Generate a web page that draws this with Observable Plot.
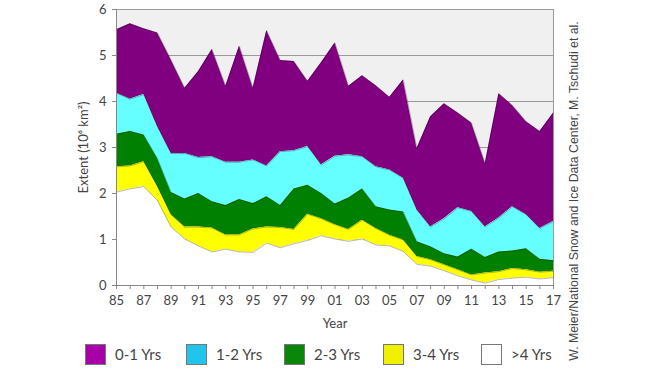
<!DOCTYPE html>
<html><head><meta charset="utf-8">
<script src="https://cdn.jsdelivr.net/npm/d3@7"></script>
<script src="https://cdn.jsdelivr.net/npm/@observablehq/plot@0.6"></script>
<style>
body{margin:0;background:#fff;}
#wrap{position:relative;width:652px;height:382px;font-family:Lato,"Open Sans",sans-serif;color:#444;overflow:hidden;}
#legend{position:absolute;left:0;top:342px;width:652px;height:24px;}
.item{position:absolute;top:0;height:24px;display:flex;align-items:center;font-size:15px;color:#444;}
.sw{width:21px;height:21px;border:1px solid #777;box-sizing:border-box;margin-right:9px;}
#credit{position:absolute;left:574px;top:191px;transform:translate(-50%,-50%) rotate(-90deg);white-space:nowrap;font-family:"Liberation Sans",Arial,sans-serif;font-size:12.3px;color:#444;}
</style></head><body><div id="wrap"></div>
<script>
const years = [1985,1986,1987,1988,1989,1990,1991,1992,1993,1994,1995,1996,1997,1998,1999,2000,2001,2002,2003,2004,2005,2006,2007,2008,2009,2010,2011,2012,2013,2014,2015,2016,2017];
const ageClasses = ["0-1 Yrs","1-2 Yrs","2-3 Yrs","3-4 Yrs",">4 Yrs"];
const fillColors = ["#800080","#66ffff","#008000","#ffff00","#ffffff"];
const legendColors = ["#a800a8","#22c4ec","#0a870a","#f0f000","#ffffff"];
// extent (10^6 km^2) of each age class, per year
const age01 = [1.38,1.64,1.43,2.04,2.03,1.42,1.87,2.33,1.65,2.52,1.56,2.94,1.98,1.94,1.42,2.22,2.46,1.49,1.76,1.76,1.58,2.14,1.34,2.40,2.50,2.06,1.92,1.38,2.70,2.20,2.02,2.11,2.36];
const age12 = [0.89,0.70,0.88,0.69,0.85,0.99,0.78,0.98,0.94,0.81,0.95,0.67,1.17,0.83,0.84,0.62,1.04,0.94,0.70,0.87,0.87,0.73,0.69,0.43,0.76,1.07,0.82,0.66,0.74,0.96,0.74,0.67,0.85];
const age23 = [0.71,0.75,0.58,0.61,0.48,0.61,0.73,0.57,0.64,0.77,0.55,0.66,0.48,0.88,0.63,0.55,0.45,0.68,0.68,0.47,0.55,0.61,0.32,0.28,0.24,0.28,0.56,0.34,0.43,0.38,0.46,0.28,0.23];
const age34 = [0.55,0.50,0.54,0.30,0.27,0.26,0.41,0.52,0.31,0.37,0.51,0.35,0.44,0.31,0.57,0.37,0.31,0.26,0.41,0.36,0.23,0.25,0.17,0.14,0.13,0.13,0.11,0.22,0.17,0.21,0.16,0.15,0.14];
const age4p = [2.03,2.10,2.15,1.85,1.27,1.01,0.86,0.73,0.79,0.73,0.72,0.92,0.82,0.91,0.98,1.08,1.01,0.96,1.01,0.88,0.86,0.74,0.46,0.42,0.32,0.21,0.12,0.05,0.13,0.16,0.18,0.14,0.17];
const yTicks = [0,1,2,3,4,5,6];
const credit = "W. Meier/National Snow and Ice Data Center, M. Tschudi et al.";

const series = [age01, age12, age23, age34, age4p];
const data = [];
ageClasses.forEach((a, i) => years.forEach((yr, j) => data.push({year: yr, age: a, value: series[i][j]})));
const stackOrder = ageClasses.slice().reverse();
const xFmt = d => d % 2 ? String(d).slice(2) : "";

const chart = Plot.plot({
  width: 652, height: 335,
  marginLeft: 116, marginRight: 99, marginTop: 9, marginBottom: 50,
  style: {fontFamily: "Lato, 'Open Sans', sans-serif", fontSize: "13px", color: "#444", background: "transparent"},
  x: {domain: [1985, 2017]},
  y: {domain: [0, 6]},
  color: {domain: ageClasses, range: fillColors},
  marks: [
    Plot.frame({fill: "#f0f0f0", stroke: null}),
    Plot.gridY(yTicks.filter(d => d > 0), {stroke: "#9a9a9a", strokeOpacity: 1, strokeWidth: 1}),
    Plot.ruleX([2017], {stroke: "#9a9a9a"}),
    Plot.areaY(data, {x: "year", y: "value", fill: "age", z: "age", order: stackOrder}),
    Plot.lineY(data, Plot.stackY2({x: "year", y: "value", z: "age", order: stackOrder, stroke: "#000", strokeOpacity: 0.35, strokeWidth: 0.8})),
    Plot.ruleX([1985], {stroke: "#888"}),
    Plot.ruleY([0], {stroke: "#888"}),
    Plot.axisX({ticks: years, tickFormat: xFmt, tickSize: 4, tickPadding: 6, stroke: "#888", label: "Year", labelAnchor: "center", labelArrow: "none", labelOffset: 42, fontSize: 13}),
    Plot.axisY({ticks: yTicks, tickFormat: d => String(d), tickSize: 4, tickPadding: 6, stroke: "#888", label: "Extent (10⁶ km²)", labelAnchor: "center", labelArrow: "none", labelOffset: 38, fontSize: 13})
  ]
});
const wrap = document.getElementById("wrap");
chart.style.position = "absolute"; chart.style.left = "0"; chart.style.top = "0";
wrap.appendChild(chart);

const legend = document.createElement("div");
legend.id = "legend";
const lefts = [85, 186, 284, 383, 481];
ageClasses.forEach((a, i) => {
  const it = document.createElement("div");
  it.className = "item"; it.style.left = lefts[i] + "px";
  const sw = document.createElement("div");
  sw.className = "sw"; sw.style.background = legendColors[i];
  it.appendChild(sw);
  it.appendChild(document.createTextNode(a));
  legend.appendChild(it);
});
wrap.appendChild(legend);
const cr = document.createElement("div");
cr.id = "credit"; cr.textContent = credit;
wrap.appendChild(cr);
</script></body></html>
